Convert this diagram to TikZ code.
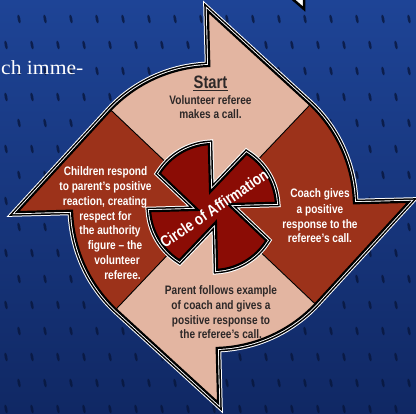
\documentclass[tikz,border=0pt]{standalone}
\usepackage{fontspec}
\setmainfont{Liberation Serif}
\newfontfamily\condf{Liberation Sans}[FakeStretch=0.82]
\newfontfamily\serfw{Liberation Serif}[FakeStretch=1.08]
\definecolor{pinkf}{RGB}{227,181,161}
\definecolor{redf}{RGB}{156,50,26}
\definecolor{wheelf}{RGB}{139,12,5}
\definecolor{darktxt}{RGB}{45,40,40}
\definecolor{bgtop}{RGB}{30,68,150}
\definecolor{bgbot}{RGB}{16,40,100}
\definecolor{meshd}{RGB}{8,22,60}
\begin{document}
\begin{tikzpicture}[x=1pt,y=1pt,
  rimw/.style={draw=white,line width=9pt,line join=miter},
  rimb/.style={draw=black,line width=7pt,line join=miter},
  rimi/.style={draw=white,line width=4pt,line join=miter},
  rimk/.style={draw=black,line width=2.2pt,line join=miter},
  sepline/.style={draw=black,line width=0.9pt},
  wtxt/.style={text=white,font=\condf\bfseries\fontsize{12.3}{14}\selectfont,inner sep=0pt,anchor=base},
  dtxt/.style={text=darktxt,font=\condf\bfseries\fontsize{12.3}{14}\selectfont,inner sep=0pt,anchor=base}]
\useasboundingbox (0,0) rectangle (416,414);
\shade[top color=bgtop,bottom color=bgbot] (0,0) rectangle (416,414);
\foreach \i in {0,...,16} \foreach \j in {0,...,16} {
  \pgfmathsetmacro\mx{6+26*\i+13*mod(\j,2)}
  \pgfmathsetmacro\my{5+26*\j}
  \fill[meshd,opacity=0.8,rotate around={12:(\mx,\my)}] (\mx,\my) ellipse (1.4 and 4.5);
}
\node[text=white,font=\serfw\fontsize{20}{24}\selectfont,anchor=base west,inner sep=0pt] (cut) at (1,339) {ch imme-};
\draw[black,line width=2.5pt,fill=white,line join=miter] (289,418) -- (304,405) -- (304,418);

\def\RR{141}
\def\DD{196}
\begin{scope}[shift={(213,207)},rotate=1.5]
\foreach \st in {rimw,rimb,rimi}{
 \path[\st] (90:\DD) -- (45:\RR) arc[start angle=45,end angle=0,radius=\RR] -- (0:\DD) -- (-45:\RR) arc[start angle=-45,end angle=-90,radius=\RR] -- (-90:\DD) -- (-135:\RR) arc[start angle=-135,end angle=-180,radius=\RR] -- (180:\DD) -- (135:\RR) arc[start angle=135,end angle=90,radius=\RR] -- cycle;}
\fill[pinkf] (0,0) -- (135:\RR) arc[start angle=135,end angle=90,radius=\RR] -- (90:\DD) -- (45:\RR) -- cycle;
\fill[redf] (0,0) -- (45:\RR) arc[start angle=45,end angle=0,radius=\RR] -- (0:\DD) -- (-45:\RR) -- cycle;
\fill[pinkf] (0,0) -- (-45:\RR) arc[start angle=-45,end angle=-90,radius=\RR] -- (-90:\DD) -- (-135:\RR) -- cycle;
\fill[redf] (0,0) -- (-135:\RR) arc[start angle=-135,end angle=-180,radius=\RR] -- (180:\DD) -- (135:\RR) -- cycle;
\foreach \a in {45,135,225,315} \draw[sepline] (\a:\RR) -- (0,0);
\path[rimk] (90:\DD) -- (45:\RR) arc[start angle=45,end angle=0,radius=\RR] -- (0:\DD) -- (-45:\RR) arc[start angle=-45,end angle=-90,radius=\RR] -- (-90:\DD) -- (-135:\RR) arc[start angle=-135,end angle=-180,radius=\RR] -- (180:\DD) -- (135:\RR) arc[start angle=135,end angle=90,radius=\RR] -- cycle;
% pinwheel
\foreach \st in {rimw,rimb,rimi}{
 \path[\st] (99.5:15.2) -- (92.3:63) arc[start angle=92.3,end angle=146.3,radius=63] -- (189.5:15.2) -- (182.3:63) arc[start angle=182.3,end angle=236.3,radius=63] -- (279.5:15.2) -- (272.3:63) arc[start angle=272.3,end angle=326.3,radius=63] -- (9.5:15.2) -- (2.3:63) arc[start angle=2.3,end angle=56.3,radius=63] -- cycle;}
\fill[wheelf] (99.5:15.2) -- (92.3:63) arc[start angle=92.3,end angle=146.3,radius=63] -- (189.5:15.2) -- (182.3:63) arc[start angle=182.3,end angle=236.3,radius=63] -- (279.5:15.2) -- (272.3:63) arc[start angle=272.3,end angle=326.3,radius=63] -- (9.5:15.2) -- (2.3:63) arc[start angle=2.3,end angle=56.3,radius=63] -- cycle;
\path[rimk] (99.5:15.2) -- (92.3:63) arc[start angle=92.3,end angle=146.3,radius=63] -- (189.5:15.2) -- (182.3:63) arc[start angle=182.3,end angle=236.3,radius=63] -- (279.5:15.2) -- (272.3:63) arc[start angle=272.3,end angle=326.3,radius=63] -- (9.5:15.2) -- (2.3:63) arc[start angle=2.3,end angle=56.3,radius=63] -- cycle;
\end{scope}

\node[rotate=34,text=white,font=\condf\bfseries\fontsize{16}{18}\selectfont,inner sep=0pt] (cof) at (214,205.5) {Circle of Affirmation};

% top
\node[dtxt,font=\condf\bfseries\fontsize{18}{20}\selectfont] (st) at (210.5,325.7) {Start};
\draw[darktxt,line width=1.5pt] ([yshift=-2.2pt]st.base west) -- ([yshift=-2.2pt]st.base east);
\node[dtxt] (t1) at (210.5,309.7) {Volunteer referee};
\node[dtxt] (t2) at (210.5,295) {makes a call.};
% left
\node[wtxt] (l1) at (105.5,238) {Children respond};
\node[wtxt] (l2) at (105.5,223) {to parent’s positive};
\node[wtxt] (l3) at (105,208) {reaction, creating};
\node[wtxt] (l4) at (105.5,193.7) {respect for};
\node[wtxt] (l5) at (110,179.7) {the authority};
\node[wtxt] (l6) at (115,164.7) {figure – the};
\node[wtxt] (l7) at (117,149.7) {volunteer};
\node[wtxt] (l8) at (122.5,134.7) {referee.};
% right
\node[wtxt] (r1) at (320,216.4) {Coach gives};
\node[wtxt] (r2) at (320,200.4) {a positive};
\node[wtxt] (r3) at (320,185.7) {response to the};
\node[wtxt] (r4) at (320,171.4) {referee’s call.};
% bottom
\node[dtxt] (b1) at (221,119.7) {Parent follows example};
\node[dtxt] (b2) at (221,104.7) {of coach and gives a};
\node[dtxt] (b3) at (221,89.7) {positive response to};
\node[dtxt] (b4) at (221,75.2) {the referee’s call.};
\end{tikzpicture}
\end{document}
